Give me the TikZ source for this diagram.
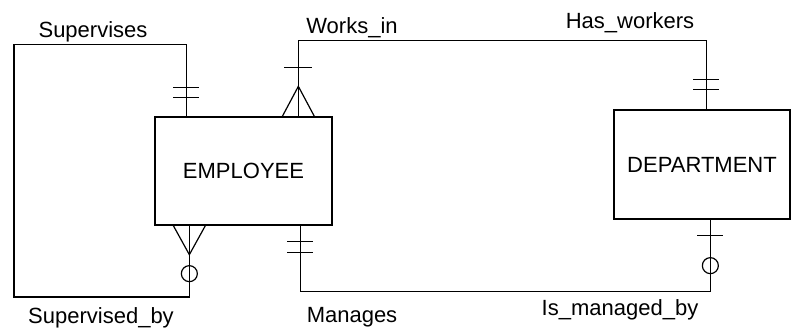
\documentclass[tikz,border=0pt]{standalone}
\usepackage{fontspec}
\setmainfont{Liberation Sans}
\usetikzlibrary{calc}

\begin{document}
\begin{tikzpicture}[x=1pt, y=-1pt,
  ent/.style={rectangle, draw, line width=1.3pt, minimum width=177pt,
    minimum height=108pt, inner sep=0pt, font=\fontsize{22}{26}\selectfont},
  rel/.style={line width=1.2pt},
  lbl/.style={anchor=base, inner sep=0pt, font=\fontsize{22}{26}\selectfont}
]
\useasboundingbox (0,0) rectangle (794,332);
\node[ent] (emp) at (243.5,171) {EMPLOYEE};
\node[ent, minimum width=176pt, minimum height=109pt] (dept) at (702,164.5) {DEPARTMENT};

\coordinate (supA) at ($(emp.north west)+(32,0)$);
\coordinate (supB) at ($(emp.south west)+(35,0)$);
\coordinate (wrkA) at ($(emp.north west)+(144,0)$);
\coordinate (mngA) at ($(emp.south west)+(146,0)$);
\coordinate (wrkB) at ($(dept.north west)+(93,0)$);
\coordinate (mngB) at ($(dept.south west)+(97,0)$);

% recursive relationship
\draw[rel] (supA) -- ++(0,-72) -| (14,297) -| (supB);
\draw[rel] ($(supA)+(-13,-29)$) -- ++(26,0);
\draw[rel] ($(supA)+(-13,-19)$) -- ++(26,0);
\draw[rel] ($(supB)+(-16,0)$) -- ($(supB)+(0,29)$) -- ($(supB)+(16,0)$);
\draw[rel] ($(supB)+(0,48)$) circle[radius=8];

% works in / has workers
\draw[rel] (wrkA) -- ++(0,-76) -| (wrkB);
\draw[rel] ($(wrkA)+(-14,-49)$) -- ++(28,0);
\draw[rel] ($(wrkA)+(-16,0)$) -- ($(wrkA)+(0,-30)$) -- ($(wrkA)+(16,0)$);
\draw[rel] ($(wrkB)+(-13,-30)$) -- ++(26,0);
\draw[rel] ($(wrkB)+(-13,-20)$) -- ++(26,0);

% manages / is managed by
\draw[rel] (mngA) -- ++(0,66) -| (mngB);
\draw[rel] ($(mngA)+(-13,16)$) -- ++(26,0);
\draw[rel] ($(mngA)+(-13,27)$) -- ++(26,0);
\draw[rel] ($(mngB)+(-13,16)$) -- ++(26,0);
\draw[rel] ($(mngB)+(0,46)$) circle[radius=8];

\node[lbl] (supl) at (93,37) {Supervises};
\node[lbl] (wrkl) at (352,33) {Works\_in};
\node[lbl] (hasl) at (630,28) {Has\_workers};
\node[lbl] (subl) at (101,323) {Supervised\_by};
\node[lbl] (mngl) at (352,322) {Manages};
\node[lbl] (isml) at (620,315) {Is\_managed\_by};
\end{tikzpicture}
\end{document}
